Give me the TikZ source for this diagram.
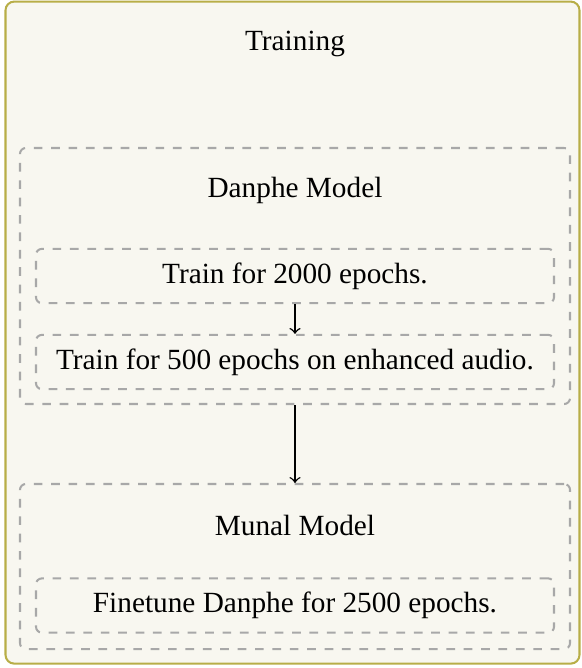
\documentclass[tikz,border=0pt]{standalone}
\usepackage{fontspec}
\setmainfont{Liberation Serif}
\usepackage{tikz}

\definecolor{framecol}{RGB}{184,174,72}
\definecolor{framefill}{RGB}{248,247,240}
\definecolor{dashcol}{RGB}{168,168,168}

\tikzset{
  stagebox/.style={draw=dashcol,dashed,line width=0.7pt,rounded corners=2pt,
    minimum width=189.75pt,inner sep=0pt},
  stepbox/.style={draw=dashcol,dashed,line width=0.7pt,rounded corners=2pt,
    minimum width=178.71pt,minimum height=18.7pt,inner sep=0pt},
  flow/.style={->,line width=0.5pt}
}

\begin{document}
\begin{tikzpicture}[x=0.345pt,y=-0.345pt,font=\fontsize{10.1}{12}\selectfont]
	\useasboundingbox (0,0) rectangle (581,668);
	
	%Outer frame
	\node (frame) [draw=framecol,fill=framefill,line width=0.7pt,rounded corners=3pt,
	  minimum width=198.03pt,minimum height=228.4pt,inner sep=0pt] at (292.5,332.6) {};
	
	% Stage boxes
	\node (danphe) [stagebox,minimum height=88.32pt] at (295,276) {};
	\node (munal) [stagebox,minimum height=56.93pt] at (295,566.5) {};
	
	% Step boxes
	\node (train1) [stepbox] at (295,276) {Train for 2000 epochs.};
	\node (train2) [stepbox] at (295,362) {Train for 500 epochs on enhanced audio.};
	\node (finetune) [stepbox] at (295,605.5) {Finetune Danphe for 2500 epochs.};
	
	% Text Node
	\node (title) at (295,44) {Training};
	% Text Node
	\node (danphelbl) at (295,190) {Danphe Model};
	% Text Node
	\node (munallbl) at (295,525) {Munal Model};
	
	% Arrows
	\draw [flow] (train1.south) -- (train2.north);
	\draw [flow] (danphe.south) -- (munal.north);
	
\end{tikzpicture}
\end{document}
